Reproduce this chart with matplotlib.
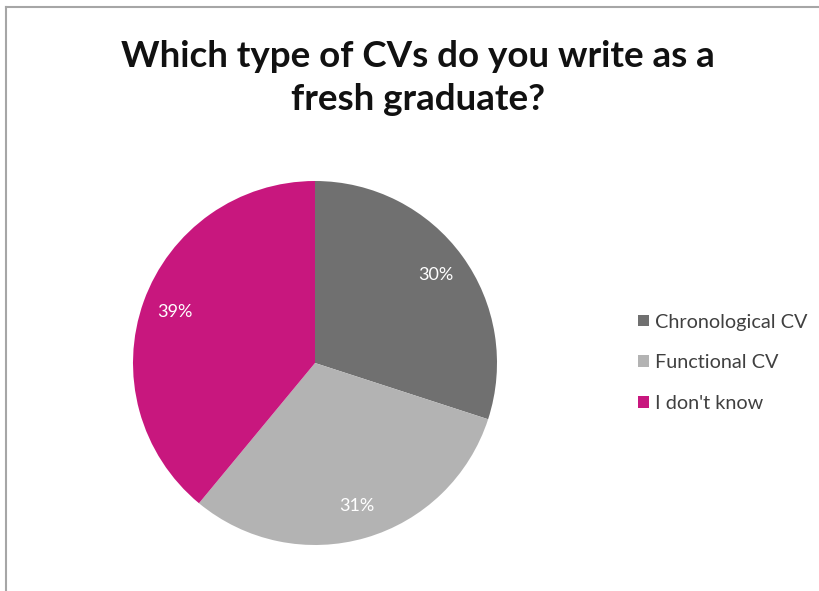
import matplotlib
matplotlib.use('Agg')
import matplotlib.pyplot as plt
from matplotlib.lines import Line2D

plt.rcParams['font.family'] = ['Lato', 'DejaVu Sans']

title = 'Which type of CVs do you write as a\nfresh graduate?'
categories = ['Chronological CV', 'Functional CV', "I don't know"]
shares = [30, 31, 39]
colors = ['#707070', '#b3b3b3', '#c8177e']

fig = plt.figure(figsize=(8.19, 5.91), dpi=100)

# frame of the chart area (runs off the right and bottom edges)
fig.add_artist(Line2D([6 / 819, 6 / 819], [0, 1 - 7 / 591], transform=fig.transFigure,
                      color='#a6a6a6', lw=1.5))
fig.add_artist(Line2D([6 / 819, 1], [1 - 7 / 591, 1 - 7 / 591], transform=fig.transFigure,
                      color='#a6a6a6', lw=1.5))

fig.text(0.510, 0.868, title, ha='center', va='center', fontsize=26.5,
         fontweight='bold', color='#111111', linespacing=1.36)

ax = fig.add_axes([133 / 819, 46 / 591, 364 / 819, 364 / 591])
wedges, texts, autotexts = ax.pie(
    shares, colors=colors, startangle=90, counterclock=False, radius=1,
    autopct=lambda p: '%d%%' % round(p), pctdistance=0.82,
    textprops=dict(color='white', fontsize=13))
ax.set_xlim(-1, 1)
ax.set_ylim(-1, 1)
ax.set_aspect('equal')

fig.legend(wedges, categories, loc='center left', bbox_to_anchor=(0.757, 0.386),
           frameon=False, fontsize=14.3, handlelength=0.55, handleheight=0.55,
           handletextpad=0.3, labelspacing=1.2, labelcolor='#404040')

plt.savefig('out.png', dpi=100)
